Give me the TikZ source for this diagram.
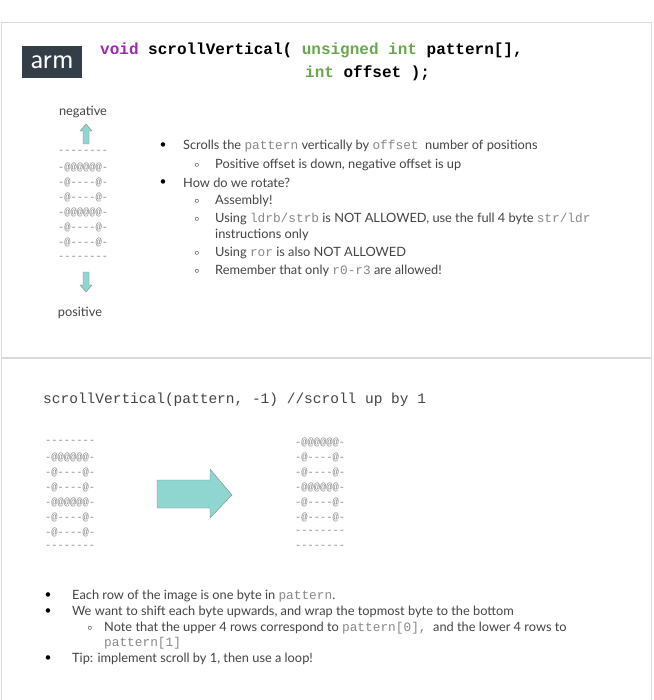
\documentclass[tikz,border=0pt]{standalone}
\usepackage{fontspec}
\setmainfont{Lato}
\newfontfamily\codefont{Liberation Mono}
\definecolor{txt}{HTML}{444444}
\definecolor{cgray}{HTML}{888888}
\definecolor{purp}{HTML}{9C27B0}
\definecolor{grn}{HTML}{6AA84F}
\definecolor{teal}{HTML}{8ED6CF}
\definecolor{armbg}{HTML}{333E48}
\newcommand{\cd}[1]{{\codefont\color{cgray}#1}}
\begin{document}
\begin{tikzpicture}[x=1pt,y=-1pt,
  body/.style={anchor=west,inner sep=0pt,text=txt,font=\fontsize{12.8}{15}\selectfont},
  pat/.style={anchor=west,inner sep=0pt,text=cgray,font=\codefont\fontsize{10.4}{12}\selectfont},
  bul/.style={anchor=center,inner sep=0pt,font=\fontsize{12}{13}\selectfont},
  code/.style={anchor=west,inner sep=0pt,font=\codefont\bfseries\fontsize{16}{18}\selectfont}]
\useasboundingbox (0,0) rectangle (653,700);
\fill[white] (0,0) rectangle (653,700);
\draw[black!15] (1.5,22) rectangle (651,357.5);
\draw[black!15] (1.5,358.5) rectangle (651,700);
% logo
\node[fill=armbg,minimum width=60,minimum height=32,inner sep=0,text=white,font=\sffamily\fontsize{29}{29}\selectfont] (arm) at (52,62) {arm};
\node[code] (c1) at (100,50) {\color{purp}void \color{black}scrollVertical( \color{grn}unsigned int \color{black}pattern[],};
\node[code] (c2) at (305,73) {\color{grn}int \color{black}offset );};
% left top
\node[body,anchor=center] (neg) at (83,112) {negative};
\node[body,anchor=center] (pos) at (80,313) {positive};
\draw[cgray,fill=teal] (86,124) -- (92,131) -- (89,131) -- (89,144) -- (83,144) -- (83,131) -- (80,131) -- cycle;
\draw[cgray,fill=teal] (86,292) -- (92,285) -- (89,285) -- (89,272) -- (83,272) -- (83,285) -- (80,285) -- cycle;
\foreach \t [count=\i from 0] in {--------,-@@@@@@-,-@----@-,-@----@-,-@@@@@@-,-@----@-,-@----@-,--------}
  \node[pat] (tp\i) at (58,{152+\i*15.1}) {\t};
% top bullets
\node[bul] (b1) at (163,146) {•};
\node[body] (t1) at (183,146) {Scrolls the \cd{pattern} vertically by \cd{offset}~ number of positions};
\node[bul] (s1) at (197,165) {\small$\circ$};
\node[body] (t2) at (215,165) {Positive offset is down, negative offset is up};
\node[bul] (b2) at (163,183) {•};
\node[body] (t3) at (183,183) {How do we rotate?};
\node[bul] (s2) at (197,201) {\small$\circ$};
\node[body] (t4) at (215,201) {Assembly!};
\node[bul] (s3) at (197,219) {\small$\circ$};
\node[body] (t5) at (215,219) {Using \cd{ldrb/strb} is NOT ALLOWED, use the full 4 byte \cd{str/ldr}};
\node[body] (t6) at (215,235) {instructions only};
\node[bul] (s4) at (197,253) {\small$\circ$};
\node[body] (t7) at (215,253) {Using \cd{ror} is also NOT ALLOWED};
\node[bul] (s5) at (197,271) {\small$\circ$};
\node[body] (t8) at (215,271) {Remember that only \cd{r0-r3} are allowed!};
% bottom
\node[anchor=west,inner sep=0,text=txt,font=\codefont\fontsize{14.5}{16}\selectfont] (call) at (43,400) {scrollVertical(pattern, -1) //scroll up by 1};
\foreach \t [count=\i from 0] in {--------,-@@@@@@-,-@----@-,-@----@-,-@@@@@@-,-@----@-,-@----@-,--------}
  \node[pat] (lp\i) at (45,{442+\i*15}) {\t};
\foreach \t [count=\i from 0] in {-@@@@@@-,-@----@-,-@----@-,-@@@@@@-,-@----@-,-@----@-,--------,--------}
  \node[pat] (rp\i) at (295,{442+\i*15}) {\t};
\draw[cgray,fill=teal] (157,480) -- (210,480) -- (210,469) -- (232,495) -- (210,518) -- (210,508) -- (157,508) -- cycle;
% bottom bullets
\node[bul] (c1b) at (48,596) {•};
\node[body] (u1) at (72,596) {Each row of the image is one byte in \cd{pattern}.};
\node[bul] (c2b) at (48,612) {•};
\node[body] (u2) at (72,612) {We want to shift each byte upwards, and wrap the topmost byte to the bottom};
\node[bul] (c3b) at (90,628) {\small$\circ$};
\node[body] (u3) at (104,628) {Note that the upper 4 rows correspond to \cd{pattern[0],}~ and the lower 4 rows to};
\node[body] (u4) at (104,643) {\cd{pattern[1]}};
\node[bul] (c4b) at (48,659) {•};
\node[body] (u5) at (72,659) {Tip: implement scroll by 1, then use a loop!};
\end{tikzpicture}
\end{document}
